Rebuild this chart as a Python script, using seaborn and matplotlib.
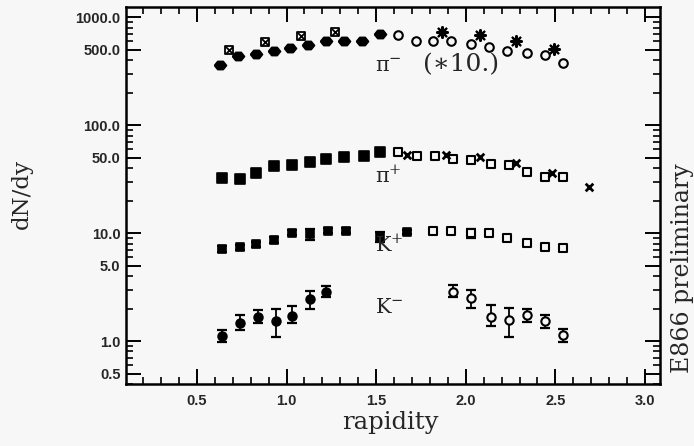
"""dN/dy vs rapidity for pi-, pi+, K+, K- (E866 preliminary), log y."""
import matplotlib
matplotlib.use('Agg')
import matplotlib.pyplot as plt
import matplotlib.ticker as mticker
import numpy as np
import seaborn as sns

BG = '#f7f7f7'

# pi- (scaled *10): measured (filled), reflected (open), other data (stars / boxes)
pim_fill_x = [0.63, 0.73, 0.83, 0.93, 1.02, 1.12, 1.22, 1.32, 1.42, 1.52]
pim_fill_y = [359, 438, 452, 484, 513, 550, 604, 600, 603, 696]
pim_open_x = [1.62, 1.72, 1.82, 1.92, 2.03, 2.13, 2.23, 2.34, 2.44, 2.54]
pim_open_y = [681, 603, 603, 603, 562, 531, 488, 461, 445, 373]
pim_box_x = [0.68, 0.88, 1.08, 1.27]
pim_box_y = [495, 591, 667, 721]
pim_star_x = [1.87, 2.08, 2.28, 2.49]
pim_star_y = [731, 681, 603, 503]

# pi+
pip_fill_x = [0.64, 0.74, 0.83, 0.93, 1.03, 1.13, 1.22, 1.32, 1.43, 1.52]
pip_fill_y = [32.1, 31.6, 35.7, 41.7, 42.6, 45.7, 48.1, 50.9, 51.6, 56.6]
pip_open_x = [1.62, 1.73, 1.83, 1.93, 2.03, 2.14, 2.24, 2.34, 2.44, 2.54]
pip_open_y = [56.6, 51.6, 51.6, 49.0, 47.4, 43.5, 42.6, 37.0, 33.2, 33.2]
pip_cross_x = [1.67, 1.89, 2.08, 2.28, 2.48, 2.69]
pip_cross_y = [52.7, 52.7, 50.1, 44.2, 35.7, 26.8]

# K+
kp_fill_x = [0.64, 0.74, 0.83, 0.93, 1.03, 1.13, 1.23, 1.33, 1.52, 1.67]
kp_fill_y = [7.06, 7.37, 7.86, 8.61, 10.07, 9.79, 10.5, 10.5, 9.25, 10.3]
kp_fill_e = [0.45, 0.45, 0.45, 0.5, 0.5, 1.1, 0.55, 0.55, 0.9, 0.45]
kp_open_x = [1.82, 1.92, 2.03, 2.13, 2.23, 2.34, 2.44, 2.54]
kp_open_y = [10.5, 10.5, 9.94, 10.1, 8.93, 8.03, 7.37, 7.21]
kp_open_e = [0.5, 0.5, 1.0, 0.5, 0.45, 0.45, 0.45, 0.45]

# K-
km_fill_x = [0.64, 0.74, 0.84, 0.94, 1.03, 1.13, 1.22]
km_fill_y = [1.11, 1.48, 1.68, 1.54, 1.70, 2.43, 2.86]
km_fill_lo = [0.99, 1.26, 1.46, 1.08, 1.46, 1.99, 2.54]
km_fill_hi = [1.26, 1.74, 1.94, 1.97, 2.11, 2.88, 3.23]
km_open_x = [1.93, 2.03, 2.14, 2.24, 2.34, 2.44, 2.54]
km_open_y = [2.86, 2.48, 1.68, 1.56, 1.74, 1.54, 1.14]
km_open_lo = [2.54, 2.01, 1.38, 1.08, 1.51, 1.31, 0.99]
km_open_hi = [3.30, 2.96, 2.15, 2.01, 1.97, 1.74, 1.29]

Y_MAJOR = [0.5, 1, 5, 10, 50, 100, 500, 1000]
X_MAJOR = [0.5, 1.0, 1.5, 2.0, 2.5, 3.0]

sns.set_theme(style='ticks')
plt.rcParams['mathtext.fontset'] = 'dejavuserif'

fig = plt.figure(figsize=(6.94, 4.46), dpi=100, facecolor=BG)
ax = fig.add_axes([126 / 694, 1 - 384 / 446, 534 / 694, 377 / 446])
ax.set_facecolor(BG)

diamond = [(-1, 0), (-0.45, 0.68), (0.45, 0.68), (1, 0), (0.45, -0.68), (-0.45, -0.68), (-1, 0)]


def scat(x, y, marker, s, filled=True, lw=1.2):
    fc = 'black' if filled else BG
    sns.scatterplot(x=x, y=y, marker=marker, s=s, ax=ax, color='black',
                    facecolor=fc, edgecolor='black', linewidth=lw, zorder=3)


def ebar(x, y, lo, hi, cap=3.5):
    y = np.asarray(y)
    yerr = np.vstack([y - np.asarray(lo), np.asarray(hi) - y])
    ax.errorbar(x, y, yerr=yerr, fmt='none', ecolor='black', elinewidth=1.3,
                capsize=cap, capthick=1.6, zorder=2)


# pi-
scat(pim_fill_x, pim_fill_y, diamond, 75)
scat(pim_open_x, pim_open_y, 'o', 38, filled=False, lw=1.5)
scat(pim_box_x, pim_box_y, 's', 28, filled=False, lw=1.3)
scat(pim_box_x, pim_box_y, 'x', 24, lw=1.3)
scat(pim_star_x, pim_star_y, (8, 2, 0), 60, lw=1.6)

# pi+
scat(pip_fill_x, pip_fill_y, 's', 42)
scat(pip_open_x, pip_open_y, 's', 38, filled=False, lw=1.5)
scat(pip_cross_x, pip_cross_y, 'x', 30, lw=2.0)

# K+
kpf = np.asarray(kp_fill_y)
ebar(kp_fill_x, kp_fill_y, kpf - np.asarray(kp_fill_e), kpf + np.asarray(kp_fill_e))
scat(kp_fill_x, kp_fill_y, 's', 38)
kpo = np.asarray(kp_open_y)
ebar(kp_open_x, kp_open_y, kpo - np.asarray(kp_open_e), kpo + np.asarray(kp_open_e))
scat(kp_open_x, kp_open_y, 's', 34, filled=False, lw=1.5)

# K-
ebar(km_fill_x, km_fill_y, km_fill_lo, km_fill_hi)
scat(km_fill_x, km_fill_y, 'o', 40)
ebar(km_open_x, km_open_y, km_open_lo, km_open_hi)
scat(km_open_x, km_open_y, 'o', 36, filled=False, lw=1.5)

ax.set_yscale('log')
ax.set_xlim(0.104, 3.084)
ax.set_ylim(0.40, 1240)

ax.yaxis.set_major_locator(mticker.FixedLocator(Y_MAJOR))
ax.yaxis.set_major_formatter(mticker.FuncFormatter(lambda v, p: f'{v:.1f}'))
minor_y = [k * 10.0 ** n for n in range(-1, 4) for k in range(1, 10)]
minor_y = [v for v in minor_y if 0.4 <= v <= 1240 and not any(np.isclose(v, m) for m in Y_MAJOR)]
ax.yaxis.set_minor_locator(mticker.FixedLocator(minor_y))
ax.yaxis.set_minor_formatter(mticker.NullFormatter())

ax.xaxis.set_major_locator(mticker.FixedLocator(X_MAJOR))
ax.xaxis.set_major_formatter(mticker.FuncFormatter(lambda v, p: f'{v:.1f}'))
ax.xaxis.set_minor_locator(mticker.MultipleLocator(0.1))

for sp in ax.spines.values():
    sp.set_linewidth(1.8)
    sp.set_color('black')
ax.tick_params(which='both', direction='in', top=True, right=True, color='black')
ax.tick_params(which='major', length=11, width=1.4)
ax.tick_params(which='minor', length=5, width=1.2)
ax.tick_params(axis='x', which='major', pad=7)
ax.tick_params(axis='y', which='major', pad=4)
for lab in ax.get_xticklabels() + ax.get_yticklabels():
    lab.set_fontfamily('Liberation Sans')
    lab.set_fontweight('bold')
    lab.set_fontsize(10.5)
ax.set_xlabel('')
ax.set_ylabel('')

# species labels
serif = 'DejaVu Serif'
ax.text(1.493, 352, r'$\mathrm{\pi}^{-}$', fontsize=15, ha='left', va='center')
ax.text(1.761, 362, '(\u221710.)', fontsize=18, family=serif, ha='left', va='center')
ax.text(1.493, 33.7, r'$\mathrm{\pi}^{+}$', fontsize=15, ha='left', va='center')
ax.text(1.493, 7.74, r'$\mathrm{K}^{+}$', fontsize=15, ha='left', va='center')
ax.text(1.493, 2.06, r'$\mathrm{K}^{-}$', fontsize=15, ha='left', va='center')

fig.text(22 / 694, 1 - 194 / 446, 'dN/dy', rotation=90, fontsize=16.5,
         family=serif, ha='center', va='center')
fig.text(390 / 694, 1 - 423 / 446, 'rapidity', fontsize=17.5,
         family=serif, ha='center', va='center')
fig.text(683 / 694, 1 - 268 / 446, 'E866 preliminary', rotation=90, fontsize=17,
         family=serif, ha='center', va='center')

fig.savefig('out.png', dpi=100, facecolor=BG)
